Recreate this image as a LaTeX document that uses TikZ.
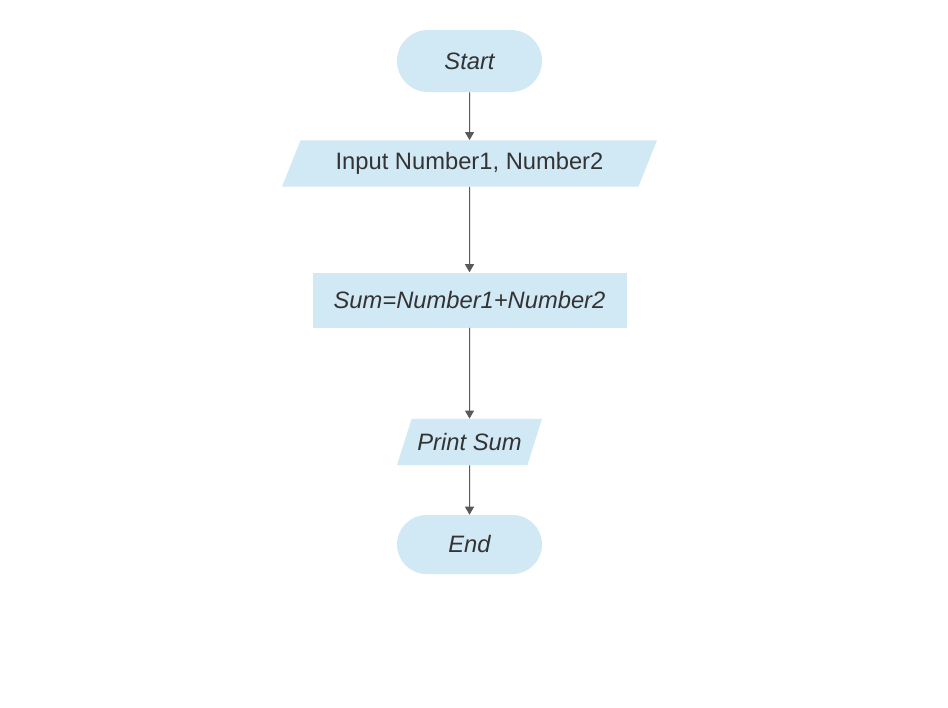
\documentclass[tikz,border=0pt]{standalone}
\usepackage{fontspec}
\setmainfont{Liberation Sans}
\usepackage{tikz}
\usetikzlibrary{shapes.geometric,shapes.misc,arrows.meta}

\definecolor{boxblue}{HTML}{D1E8F5}
\definecolor{textgray}{HTML}{333333}
\definecolor{linegray}{HTML}{595959}

\begin{document}
\begin{tikzpicture}
      [   x=0.75pt,y=-0.75pt,
          base/.style={fill=boxblue,draw=none,text=textgray,inner sep=0pt,
                       font=\fontsize{17.8}{21}\selectfont},
          term/.style={base,rounded rectangle,minimum width=108.75pt,minimum height=#1},
          io/.style={base,trapezium,trapezium left angle=50,trapezium right angle=130,
                     trapezium stretches body,minimum width=#1,minimum height=34.75pt},
          proc/.style={base,rectangle,minimum width=235.5pt,minimum height=41.25pt},
          line/.style={draw=linegray,line width=0.75pt,-{Triangle[length=6pt,width=6.75pt]}},
      ]
          \useasboundingbox (0,0) rectangle (948,707);
          \node[term=46.5pt] (start) at (469.5,61) {\itshape Start};
          \node[io=281.25pt] (input) at (469.5,163.5) {Input Number1, Number2};
          \node[proc] (sum) at (469.5,300) {\itshape Sum=Number1+Number2};
          \node[io=108.75pt] (print) at (469.5,442) {\itshape Print Sum};
          \node[term=44.25pt] (end) at (469.5,544.5) {\itshape End};
          \foreach \a/\b in {start/input,input/sum,sum/print,print/end}
          {   \draw[line] (\a) -- (\b);
          }
    \end{tikzpicture}
\end{document}
